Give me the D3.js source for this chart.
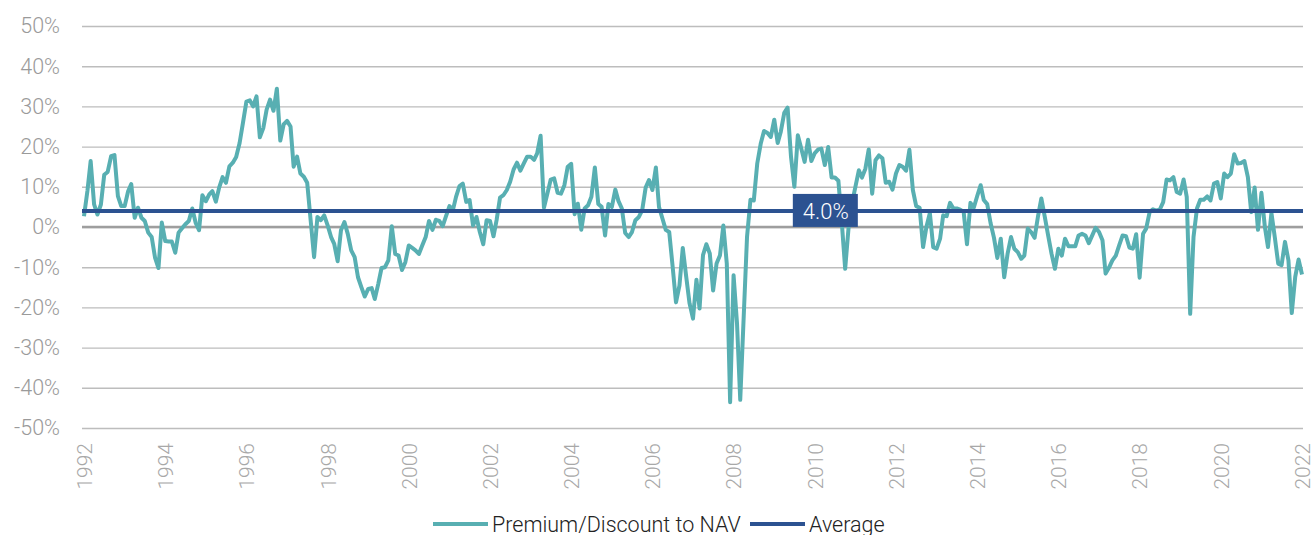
<!DOCTYPE html>
<html>
<head>
<meta charset="utf-8">
<title>Premium/Discount to NAV</title>
<style>
	body { margin: 0; background: #fff; }
	svg text { font-family: Roboto, "Noto Sans", sans-serif; }
</style>
</head>
<body>
<div id="chart"></div>
<script src="https://d3js.org/d3.v7.min.js"></script>
<script>
// monthly premium / discount to NAV (%), Jan 1992 -> Jan 2022
const startYear = 1992;
const premium = [
	2.7, 9, 16.4, 5.6, 3.1, 5.6, 13, 13.7, 17.6, 17.9, 7.7, 5.2,
	5.2, 8.9, 10.7, 2.3, 4.8, 2.3, 1.5, -1.4, -2.5, -7.6, -10.2, 1.1,
	-3.5, -3.6, -3.6, -6.4, -1.4, -0.3, 0.7, 1.5, 4.6, 1.1, -0.8, 7.9,
	6.4, 8.1, 8.9, 6.3, 9.8, 12.4, 11, 15.1, 16, 17.4, 20.9, 25.9,
	31.2, 31.5, 30, 32.5, 22.3, 24.6, 29.2, 31.7, 28.9, 34.4, 21.5, 25.5,
	26.4, 25, 15, 17.5, 13.3, 12.5, 11, 1.7, -7.5, 2.5, 1.7, 2.9,
	0.4, -2.5, -4.2, -8.5, -0.8, 1.25, -1.7, -5.8, -7.5, -12.5, -15, -17.3,
	-15.4, -15.2, -17.9, -14.2, -10.2, -10, -8.3, 0.2, -6.7, -7.1, -10.7, -8.75,
	-4.6, -5.2, -5.8, -6.7, -4.6, -2.5, 1.5, -0.7, 1.8, 1.5, 0.2, 2.7,
	5.2, 4.2, 7.5, 10.2, 10.8, 6.25, 6.7, 0.4, 2.5, -1.25, -4.3, 1.7,
	1.5, -2.3, 1.7, 7.3, 7.9, 9.2, 11.25, 14.3, 16, 14, 15.8, 17.5,
	17.5, 16.7, 18.3, 22.7, 4.8, 8.3, 11.8, 12.1, 8.5, 8.3, 10.4, 15,
	15.7, 3.2, 5.8, -0.7, 4.6, 5.4, 7.5, 14.8, 5.7, 5, -2.1, 5.7,
	5, 9.3, 6.5, 4.6, -1.5, -2.5, -1.25, 1.7, 2.5, 4.2, 9.8, 11.7,
	9.2, 14.8, 5, 2.1, -0.7, -1.25, -9.6, -18.75, -14.6, -5.2, -12.4, -19,
	-22.8, -13.1, -20.3, -7, -4.3, -6.6, -15.8, -9.1, -7, 0.4, -9.1, -43.6,
	-12, -24, -43, -22.4, -2.5, 6.8, 6.6, 15.8, 20.7, 23.9, 23.4, 22.4,
	26.7, 20.9, 23.7, 28.4, 29.7, 17.4, 10, 22.8, 19.5, 16.2, 21.7, 16.4,
	18.4, 19.3, 19.5, 15.4, 19.9, 12.3, 12.3, 11.5, 1, -10.4, 0, 5.8,
	10, 14.1, 12.3, 14.5, 19.3, 8.3, 16.6, 17.8, 17.1, 11, 11.25, 9.3,
	13.3, 15.4, 15, 14, 19.2, 9.2, 5.2, 4.8, -5, 0, 3.5, -5,
	-5.4, -2.9, 2.9, 2.7, 6, 4.6, 4.6, 4.3, 3.75, -4.3, 6, 4.8,
	7.7, 10.4, 6.7, 5.7, 1, -2.7, -7.7, -2.9, -12.5, -6.7, -2.5, -5.4,
	-6.25, -7.9, -7.1, -0.4, -1.25, -2.7, 2.5, 7.1, 2.5, -2.1, -6.7, -10.4,
	-5.4, -7.1, -2.9, -4.8, -4.8, -4.8, -2.1, -1.7, -2.1, -4, -2.1, -0.2,
	-1.25, -3.3, -11.6, -10.1, -8.3, -7.1, -4.6, -2.1, -2.3, -5.1, -5.4, -1.8,
	-12.6, -1.7, -0.4, 3.7, 4.4, 4.1, 4.3, 6.2, 11.8, 11.6, 12.4, 8.7,
	8.3, 11.8, 7.5, -21.6, -2.5, 4.6, 6.8, 6.8, 7.6, 6.6, 10.8, 11.2,
	7.1, 13.3, 12.4, 13.3, 18.1, 15.8, 15.9, 16.4, 12.4, 3.7, 9.8, -0.7,
	8.5, 0, -5, 3.5, -2.5, -9.1, -9.5, -3.7, -8.3, -21.4, -12.4, -8.1,
	-11.8
];
const average = 4.0;
const yTicks = [-50, -40, -30, -20, -10, 0, 10, 20, 30, 40, 50];
const xTickYears = [1992, 1994, 1996, 1998, 2000, 2002, 2004, 2006, 2008, 2010, 2012, 2014, 2016, 2018, 2020, 2022];
const legendLabels = ["Premium/Discount to NAV", "Average"];

const W = 1312, H = 535;
const teal = '#58afb2', navy = '#2c5291';

function translateHelper(x, y) {
	return 'translate(' + x + ', ' + y + ')';
}

let data = premium.map(function(v, i) {
	return { date: new Date(startYear, i, 1), value: v };
});

let svg = d3.select('#chart').append('svg')
	.attr('width', W).attr('height', H);

let x = d3.scaleTime()
	.domain([new Date(startYear, 0, 1), new Date(2022, 0, 1)])
	.range([84, 1302]);
let y = d3.scaleLinear().domain([-50, 50]).range([428, 26]);

// gridlines + y labels
let yAxis = svg.append('g').attr('transform', translateHelper(82, 0))
	.call(d3.axisLeft(y).tickValues(yTicks).tickSize(-1221).tickPadding(22)
		.tickFormat(d => d + '%'));
yAxis.select('.domain').remove();
yAxis.selectAll('.tick line').attr('stroke', '#bdbdbd').attr('stroke-width', 1.4);
yAxis.selectAll('.tick text').attr('fill', '#9a9a9a').attr('font-size', 21.5)
	.attr('font-weight', 300);

// zero line
svg.append('line')
	.attr('x1', 82).attr('x2', 1303)
	.attr('y1', y(0)).attr('y2', y(0))
	.attr('stroke', '#9e9e9e').attr('stroke-width', 2.6);

// x labels (rotated)
let xAxis = svg.append('g').attr('transform', translateHelper(0, 443))
	.call(d3.axisBottom(x).tickValues(xTickYears.map(d => new Date(d, 0, 1)))
		.tickSize(0).tickFormat(d3.timeFormat('%Y')));
xAxis.select('.domain').remove();
xAxis.selectAll('.tick text')
	.attr('fill', '#a8a8a8').attr('font-size', 21).attr('font-weight', 300)
	.attr('transform', 'rotate(-90)')
	.attr('text-anchor', 'end')
	.attr('x', 0).attr('y', 0).attr('dy', '0.35em');

// premium line
let line = d3.line().x(d => x(d.date)).y(d => y(d.value));
svg.append('path').datum(data)
	.attr('d', line)
	.attr('fill', 'none')
	.attr('stroke', teal).attr('stroke-width', 4)
	.attr('stroke-linejoin', 'round');

// average line
svg.append('line')
	.attr('x1', 82).attr('x2', 1303)
	.attr('y1', y(average)).attr('y2', y(average))
	.attr('stroke', navy).attr('stroke-width', 4);

// average label box
let bx = x(new Date(2010, 3, 1));
svg.append('rect')
	.attr('x', bx - 32).attr('y', y(average) - 17)
	.attr('width', 65).attr('height', 33)
	.attr('fill', navy);
svg.append('text')
	.attr('x', bx + 1).attr('y', y(average) + 8)
	.attr('text-anchor', 'middle')
	.attr('fill', '#fff').attr('font-size', 22).attr('font-weight', 300)
	.text(average.toFixed(1) + '%');

// legend
let legend = svg.append('g').attr('transform', translateHelper(0, 524));
let legendItems = [
	{ label: legendLabels[0], color: teal, x: 433 },
	{ label: legendLabels[1], color: navy, x: 750 }
];
legendItems.forEach(function(it) {
	legend.append('line')
		.attr('x1', it.x).attr('x2', it.x + 55)
		.attr('y1', 0).attr('y2', 0)
		.attr('stroke', it.color).attr('stroke-width', 4);
	legend.append('text')
		.attr('x', it.x + 59).attr('y', 8)
		.attr('fill', '#222').attr('font-size', 21.5).attr('font-weight', 300)
		.text(it.label);
});
</script>
</body>
</html>
